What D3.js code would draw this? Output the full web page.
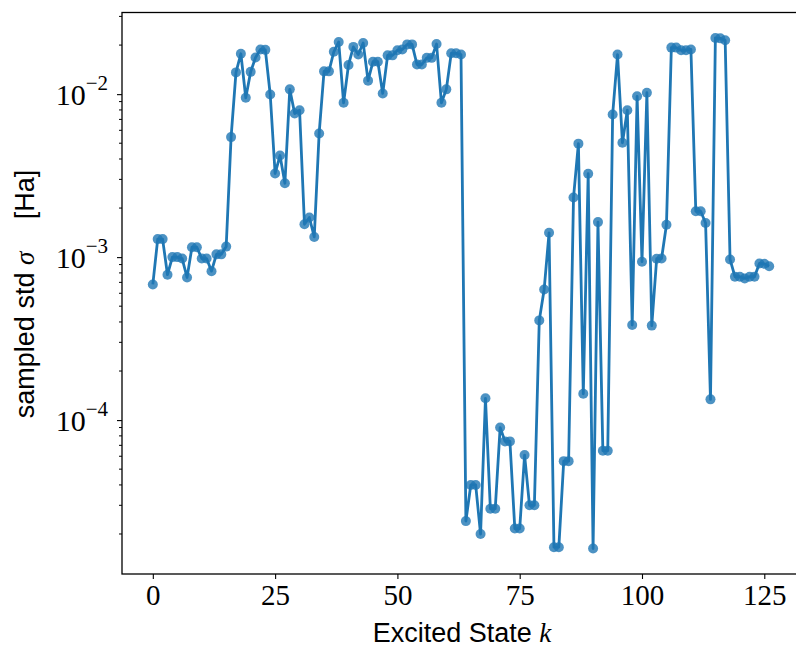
<!DOCTYPE html>
<html>
<head>
<meta charset="utf-8">
<script src="https://cdn.jsdelivr.net/npm/d3@7"></script>
<style>
  body { margin: 0; background: #fff; }
  svg { display: block; }
  .tick text { font-family: "Liberation Serif", "DejaVu Serif", serif; }
</style>
</head>
<body>
<svg></svg>
<script>
// values
const states = d3.range(0, 127)
const sigma = [
  6.8e-4, 1.29e-3, 1.29e-3, 7.8e-4, 1.0e-3, 1.0e-3, 9.8e-4, 7.5e-4, 1.15e-3, 1.15e-3,
  9.8e-4, 9.8e-4, 8.2e-4, 1.04e-3, 1.04e-3, 1.16e-3, 5.45e-3, 1.36e-2, 1.77e-2, 9.5e-3,
  1.37e-2, 1.68e-2, 1.88e-2, 1.87e-2, 9.95e-3, 3.26e-3, 4.2e-3, 2.84e-3, 1.07e-2, 7.6e-3,
  7.97e-3, 1.59e-3, 1.75e-3, 1.33e-3, 5.74e-3, 1.38e-2, 1.38e-2, 1.82e-2, 2.09e-2, 8.85e-3,
  1.51e-2, 1.95e-2, 1.75e-2, 2.06e-2, 1.21e-2, 1.58e-2, 1.58e-2, 1.01e-2, 1.73e-2, 1.73e-2,
  1.86e-2, 1.88e-2, 2.02e-2, 2.02e-2, 1.52e-2, 1.52e-2, 1.67e-2, 1.67e-2, 2.03e-2, 8.85e-3,
  1.07e-2, 1.78e-2, 1.78e-2, 1.75e-2, 2.4e-5, 4.0e-5, 4.0e-5, 2.0e-5, 1.36e-4, 2.86e-5,
  2.86e-5, 9.0e-5, 7.4e-5, 7.4e-5, 2.16e-5, 2.16e-5, 6.1e-5, 3.0e-5, 3.0e-5, 4.09e-4,
  6.33e-4, 1.41e-3, 1.66e-5, 1.66e-5, 5.6e-5, 5.6e-5, 2.32e-3, 4.97e-3, 1.45e-4, 3.25e-3,
  1.63e-5, 1.64e-3, 6.49e-5, 6.49e-5, 7.5e-3, 1.75e-2, 5.03e-3, 7.97e-3, 3.83e-4, 9.7e-3,
  9.37e-4, 1.02e-2, 3.8e-4, 9.77e-4, 9.8e-4, 1.58e-3, 1.93e-2, 1.93e-2, 1.86e-2, 1.86e-2,
  1.88e-2, 1.91e-3, 1.91e-3, 1.62e-3, 1.34e-4, 2.21e-2, 2.2e-2, 2.14e-2, 9.68e-4, 7.58e-4,
  7.58e-4, 7.4e-4, 7.58e-4, 7.58e-4, 9.14e-4, 9.1e-4, 8.8e-4
]
const xTicks = [0, 25, 50, 75, 100, 125]
const yTicks = [1e-4, 1e-3, 1e-2]

const width = 796
const height = 651
const margin = { top: 12.5, left: 122, right: -4, bottom: 77 }
const innerWidth = width - margin.left - margin.right
const innerHeight = height - margin.top - margin.bottom

const svg = d3.select("svg").attr("width", width).attr("height", height)

const data = states.map((k, i) => ({ k: k, s: sigma[i] }))

// matplotlib style 5% margins (log space for y)
const xPad = (d3.max(states) - d3.min(states)) * 0.05
const xScale = d3.scaleLinear()
  .domain([d3.min(states) - xPad, d3.max(states) + xPad])
  .range([0, innerWidth])

const lo = Math.log10(d3.min(sigma)), hi = Math.log10(d3.max(sigma))
const yPad = (hi - lo) * 0.05
const yScale = d3.scaleLog()
  .domain([Math.pow(10, lo - yPad), Math.pow(10, hi + yPad)])
  .range([innerHeight, 0])

const g = svg.append("g")
  .attr("transform", `translate(${margin.left},${margin.top})`)

// minor ticks on the log axis
const minor = []
for (let e = -6; e <= -1; e++) {
  for (let m = 2; m <= 9; m++) {
    const v = m * Math.pow(10, e)
    if (v >= yScale.domain()[0] && v <= yScale.domain()[1]) minor.push(v)
  }
}
g.append("g").selectAll("line")
  .data(minor)
  .enter().append("line")
    .attr("x1", -3).attr("x2", 0)
    .attr("y1", d => yScale(d)).attr("y2", d => yScale(d))
    .attr("stroke", "#000")
    .attr("stroke-width", 1)

const yAxisG = g.append("g")
  .call(d3.axisLeft(yScale).tickValues(yTicks).tickSize(5).tickFormat(""))
yAxisG.select(".domain").remove()
yAxisG.selectAll("text").remove()
yAxisG.selectAll("line").attr("stroke", "#000").attr("stroke-width", 1.1)
yAxisG.selectAll(".tick").each(function(d) {
  const t = d3.select(this).append("text")
    .attr("x", -14)
    .attr("dy", "0.34em")
    .attr("text-anchor", "end")
    .attr("fill", "#000")
    .attr("font-size", 30)
  t.append("tspan").text("10")
  t.append("tspan")
    .attr("font-size", 21)
    .attr("dy", "-0.7em")
    .text("\u2212" + Math.abs(Math.round(Math.log10(d))))
})

const xAxisG = g.append("g")
  .attr("transform", `translate(0,${innerHeight})`)
  .call(d3.axisBottom(xScale).tickValues(xTicks).tickSize(5).tickPadding(5))
xAxisG.select(".domain").remove()
xAxisG.selectAll("line").attr("stroke", "#000").attr("stroke-width", 1.1)
xAxisG.selectAll("text").attr("font-size", 29).attr("fill", "#000")

// frame
g.append("rect")
  .attr("width", innerWidth)
  .attr("height", innerHeight)
  .attr("fill", "none")
  .attr("stroke", "#000")
  .attr("stroke-width", 1.3)

const line = d3.line()
  .x(d => xScale(d.k))
  .y(d => yScale(d.s))

g.append("path")
  .datum(data)
  .attr("d", line)
  .attr("fill", "none")
  .attr("stroke", "#1f77b4")
  .attr("stroke-width", 2.8)
  .attr("stroke-linejoin", "round")

g.selectAll("circle")
  .data(data)
  .enter().append("circle")
    .attr("cx", d => xScale(d.k))
    .attr("cy", d => yScale(d.s))
    .attr("r", 5)
    .attr("fill", "#1f77b4")
    .attr("fill-opacity", 0.8)

// axis labels
const xl = svg.append("text")
  .attr("x", 462)
  .attr("y", 642)
  .attr("text-anchor", "middle")
  .attr("font-family", "Liberation Sans, Arial, sans-serif")
  .attr("font-size", 27)
  .attr("fill", "#000")
xl.append("tspan").text("Excited State ")
xl.append("tspan")
  .attr("font-family", "Liberation Serif, serif")
  .attr("font-style", "italic")
  .text("k")

const yl = svg.append("text")
  .attr("transform", "translate(34,294) rotate(-90)")
  .attr("text-anchor", "middle")
  .attr("font-family", "Liberation Sans, Arial, sans-serif")
  .attr("font-size", 27)
  .attr("fill", "#000")
yl.append("tspan").text("sampled std ")
yl.append("tspan")
  .attr("font-family", "Liberation Serif, serif")
  .attr("font-style", "italic")
  .text("\u03c3")
yl.append("tspan").attr("xml:space", "preserve").text("\u2003\u2009[Ha]")
</script>
</body>
</html>
